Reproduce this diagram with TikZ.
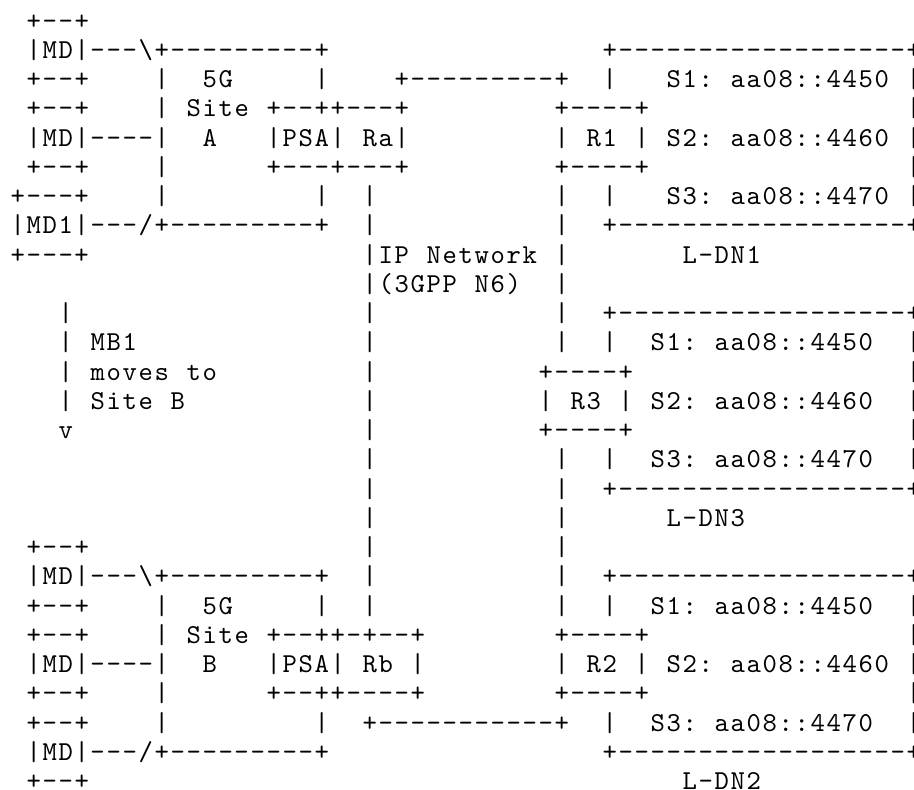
\documentclass[tikz,border=0pt]{standalone}
\usepackage{fontspec}
\newfontfamily\asciifont{lmmono10-regular}[Extension=.otf]
\newdimen\cw \cw=8pt
\def\alend{ALEND}
\def\al#1{\alx#1\alend}
\def\alx#1{\ifx#1\alend\else\alchar{#1}\expandafter\alx\fi}
\def\alchar#1{\ifx#1.\hbox to\cw{\hfil}\else\hbox to\cw{\hss#1\hss}\fi}
\tikzset{ascii/.style={anchor=base west, inner sep=0pt, outer sep=0pt,
  font=\asciifont\fontsize{13.67pt}{14.6pt}\selectfont}}
\newcommand\asc[3]{\node[ascii] (r#2c#1) at ({4.85pt+8pt*#1},{-14.525pt-14.625pt*#2}) {\al{#3}};}
\begin{document}
\begin{tikzpicture}
\useasboundingbox (0,0) rectangle (457pt,-394.5pt);
% row 0
\asc{1}{0}{+--+}
% row 1
\asc{1}{1}{|MD|---\textbackslash+---------+} \asc{37}{1}{+------------------+}
% row 2
\asc{1}{2}{+--+} \asc{9}{2}{|} \asc{12}{2}{5G} \asc{19}{2}{|} \asc{24}{2}{+---------+} \asc{37}{2}{|} \asc{41}{2}{S1:.aa08::4450} \asc{56}{2}{|}
% row 3
\asc{1}{3}{+--+} \asc{9}{3}{|} \asc{11}{3}{Site} \asc{16}{3}{+--++---+} \asc{34}{3}{+----+} \asc{56}{3}{|}
% row 4
\asc{1}{4}{|MD|----|} \asc{12}{4}{A} \asc{16}{4}{|PSA|.Ra|} \asc{34}{4}{|.R1.|.S2:.aa08::4460.|}
% row 5
\asc{1}{5}{+--+} \asc{9}{5}{|} \asc{16}{5}{+---+---+} \asc{34}{5}{+----+} \asc{56}{5}{|}
% row 6
\asc{0}{6}{+---+} \asc{9}{6}{|} \asc{19}{6}{|} \asc{22}{6}{|} \asc{34}{6}{|} \asc{37}{6}{|} \asc{41}{6}{S3:.aa08::4470} \asc{56}{6}{|}
% row 7
\asc{0}{7}{|MD1|---/+---------+} \asc{22}{7}{|} \asc{34}{7}{|} \asc{37}{7}{+------------------+}
% row 8
\asc{0}{8}{+---+} \asc{22}{8}{|IP.Network} \asc{34}{8}{|} \asc{42}{8}{L-DN1}
% row 9
\asc{22}{9}{|(3GPP.N6)} \asc{34}{9}{|}
% row 10
\asc{3}{10}{|} \asc{22}{10}{|} \asc{34}{10}{|} \asc{37}{10}{+------------------+}
% row 11
\asc{3}{11}{|.MB1} \asc{22}{11}{|} \asc{34}{11}{|} \asc{37}{11}{|..S1:.aa08::4450} \asc{56}{11}{|}
% row 12
\asc{3}{12}{|.moves.to} \asc{22}{12}{|} \asc{33}{12}{+----+} \asc{56}{12}{|}
% row 13
\asc{3}{13}{|.Site.B} \asc{22}{13}{|} \asc{33}{13}{|.R3.|.S2:.aa08::4460} \asc{56}{13}{|}
% row 14
\asc{3}{14}{v} \asc{22}{14}{|} \asc{33}{14}{+----+} \asc{56}{14}{|}
% row 15
\asc{22}{15}{|} \asc{34}{15}{|} \asc{37}{15}{|..S3:.aa08::4470} \asc{56}{15}{|}
% row 16
\asc{22}{16}{|} \asc{34}{16}{|} \asc{37}{16}{+------------------+}
% row 17
\asc{22}{17}{|} \asc{34}{17}{|} \asc{41}{17}{L-DN3}
% row 18
\asc{1}{18}{+--+} \asc{22}{18}{|} \asc{34}{18}{|}
% row 19
\asc{1}{19}{|MD|---\textbackslash+---------+} \asc{22}{19}{|} \asc{34}{19}{|} \asc{37}{19}{+------------------+}
% row 20
\asc{1}{20}{+--+} \asc{9}{20}{|} \asc{12}{20}{5G} \asc{19}{20}{|} \asc{22}{20}{|} \asc{34}{20}{|} \asc{37}{20}{|..S1:.aa08::4450} \asc{56}{20}{|}
% row 21
\asc{1}{21}{+--+} \asc{9}{21}{|} \asc{11}{21}{Site} \asc{16}{21}{+--++-+--+} \asc{34}{21}{+----+} \asc{56}{21}{|}
% row 22
\asc{1}{22}{|MD|----|} \asc{12}{22}{B} \asc{16}{22}{|PSA|.Rb.|} \asc{34}{22}{|.R2.|.S2:.aa08::4460.|}
% row 23
\asc{1}{23}{+--+} \asc{9}{23}{|} \asc{16}{23}{+--++----+} \asc{34}{23}{+----+} \asc{56}{23}{|}
% row 24
\asc{1}{24}{+--+} \asc{9}{24}{|} \asc{19}{24}{|} \asc{22}{24}{+-----------+} \asc{37}{24}{|..S3:.aa08::4470} \asc{56}{24}{|}
% row 25
\asc{1}{25}{|MD|---/+---------+} \asc{37}{25}{+------------------+}
% row 26
\asc{1}{26}{+--+} \asc{42}{26}{L-DN2}
\end{tikzpicture}
\end{document}
